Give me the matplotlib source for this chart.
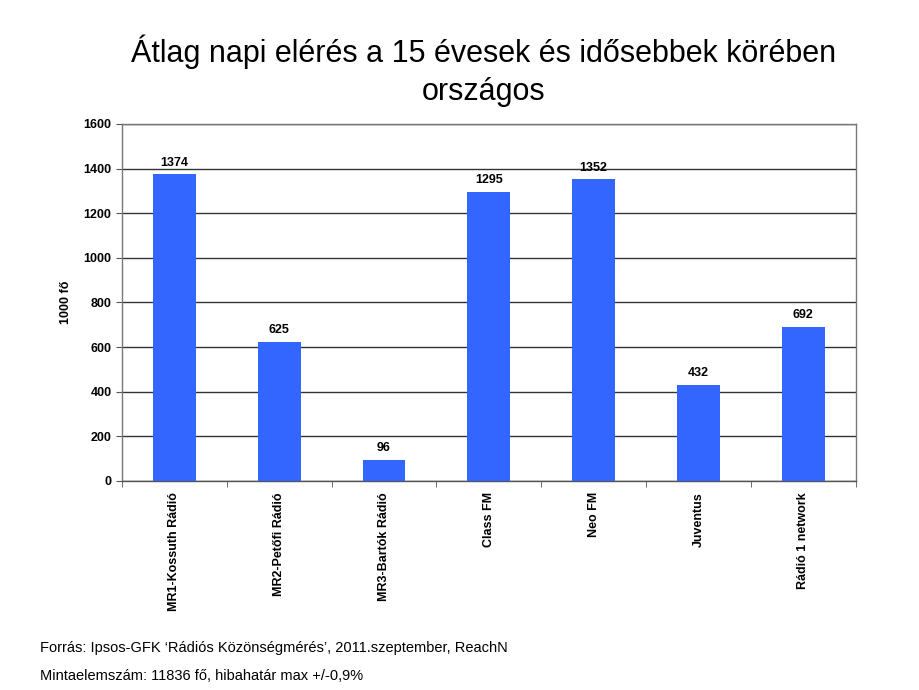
import matplotlib
matplotlib.use("Agg")
import matplotlib.pyplot as plt
import numpy as np

plt.rcParams['font.family'] = ['Liberation Sans', 'DejaVu Sans']

categories = ["MR1-Kossuth Rádió", "MR2-Petőfi Rádió", "MR3-Bartók Rádió",
              "Class FM", "Neo FM", "Juventus", "Rádió 1 network"]
values = [1374, 625, 96, 1295, 1352, 432, 692]
yticks = [0, 200, 400, 600, 800, 1000, 1200, 1400, 1600]

fig = plt.figure(figsize=(9.2, 6.9), dpi=100)
ax = fig.add_axes([0.1326, 0.3029, 0.7974, 0.5174])

x = np.arange(len(categories))
ax.set_axisbelow(True)
ax.yaxis.grid(True, color='#333333', linewidth=1.0)
bars = ax.bar(x, values, width=0.41, color='#3366FF', zorder=3)
for xi, v in zip(x, values):
    ax.text(xi, v + 25, str(v), ha='center', va='bottom', fontsize=9, fontweight='bold')

ax.set_xlim(-0.5, len(categories) - 0.5)
ax.set_ylim(0, 1600)
ax.set_yticks(yticks)
ax.set_yticklabels([str(t) for t in yticks], fontsize=9, fontweight='bold')
ax.set_xticks(x)
ax.set_xticklabels(categories, rotation=90, fontsize=9, fontweight='bold')
ax.tick_params(axis='x', which='major', length=0, pad=8)
ax.set_xticks(np.arange(-0.5, len(categories) + 0.5, 1), minor=True)
ax.tick_params(axis='x', which='minor', length=4, color='#555555')
ax.tick_params(axis='y', length=4, color='#555555')
for s in ax.spines.values():
    s.set_color('#777777')
    s.set_linewidth(1.0)
ax.spines['bottom'].set_color('#555555')
ax.set_ylabel("1000 fő", fontsize=9, fontweight='bold', labelpad=8)

fig.text(0.526, 0.925, "Átlag napi elérés a 15 évesek és idősebbek körében", ha='center', va='center', fontsize=22)
fig.text(0.526, 0.866, "országos", ha='center', va='center', fontsize=22)
fig.text(0.043, 0.061, "Forrás: Ipsos-GFK ‘Rádiós Közönségmérés’, 2011.szeptember, ReachN", ha='left', va='center', fontsize=10.5)
fig.text(0.043, 0.021, "Mintaelemszám: 11836 fő, hibahatár max +/-0,9%", ha='left', va='center', fontsize=10.5)

fig.savefig("out.png", dpi=100)
